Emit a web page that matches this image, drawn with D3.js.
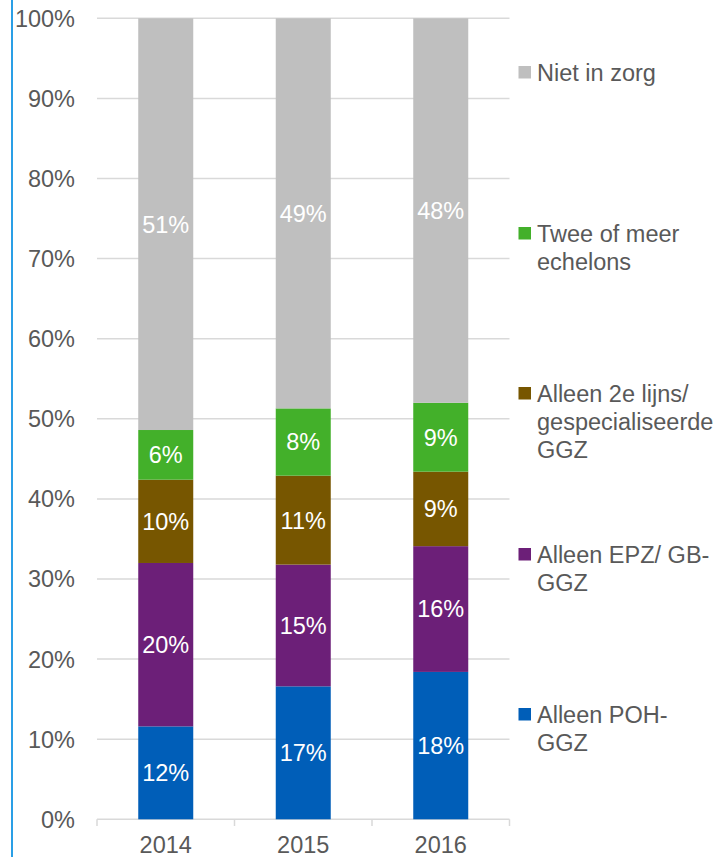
<!DOCTYPE html>
<html>
<head>
<meta charset="utf-8">
<script src="https://cdn.jsdelivr.net/npm/d3@7"></script>
<style>
  html, body { margin: 0; padding: 0; background: #fff; }
  svg { display: block; font-family: "Liberation Sans", Arial, sans-serif; }
</style>
</head>
<body>
<svg id="chart" width="719" height="857"></svg>
<script>
const years = ["2014", "2015", "2016"];
const seriesNames = ["Alleen POH-GGZ", "Alleen EPZ/ GB-GGZ", "Alleen 2e lijns/ gespecialiseerde GGZ", "Twee of meer echelons", "Niet in zorg"];
const pohGgz       = [11.6, 16.6, 18.4];
const epzGbGgz     = [20.4, 15.2, 15.7];
const tweedeLijn   = [10.4, 11.1, 9.3];
const tweeOfMeer   = [6.2, 8.4, 8.6];
const nietInZorg   = [51.4, 48.7, 48.0];
const yTicks = [0, 10, 20, 30, 40, 50, 60, 70, 80, 90, 100];
const colors = ["#005EB8", "#6C1F78", "#775600", "#43B02A", "#BFBFBF"];
const legendLines = [
  ["Alleen POH-", "GGZ"],
  ["Alleen EPZ/ GB-", "GGZ"],
  ["Alleen 2e lijns/", "gespecialiseerde", "GGZ"],
  ["Twee of meer", "echelons"],
  ["Niet in zorg"]
];
const legendY = [708, 548, 387, 227, 66];

const seriesArrays = [pohGgz, epzGbGgz, tweedeLijn, tweeOfMeer, nietInZorg];
const keys = seriesNames;
const table = years.map((y, i) => {
  const row = { year: y };
  keys.forEach((k, j) => row[k] = seriesArrays[j][i]);
  return row;
});

const svg = d3.select("#chart");
const x = d3.scaleBand().domain(years).range([97, 509.5]).paddingInner(0.6).paddingOuter(0.3);
const y = d3.scaleLinear().domain([0, 100]).range([819.3, 18.3]);

// left blue line
svg.append("line").attr("x1", 12).attr("x2", 12).attr("y1", 0).attr("y2", 857)
  .attr("stroke", "#2A9FE6").attr("stroke-width", 2);

// gridlines
svg.append("g").selectAll("line").data(yTicks).join("line")
  .attr("x1", 97).attr("x2", 509.5)
  .attr("y1", d => y(d)).attr("y2", d => y(d))
  .attr("stroke", "#D9D9D9").attr("stroke-width", 1.5);

// y labels
svg.append("g").selectAll("text").data(yTicks).join("text")
  .attr("x", 75).attr("y", d => y(d)).attr("dy", "0.36em")
  .attr("text-anchor", "end").attr("font-size", 23.5).attr("fill", "#595959")
  .text(d => d + "%");

// x axis with ticks at band boundaries
const step = x.step();
const bounds = [97, 97 + step, 97 + 2 * step, 509.5];
svg.append("g").selectAll("line").data(bounds).join("line")
  .attr("x1", d => d).attr("x2", d => d).attr("y1", 819.3).attr("y2", 826)
  .attr("stroke", "#D9D9D9").attr("stroke-width", 1.5);
svg.append("g").selectAll("text").data(years).join("text")
  .attr("x", d => x(d) + x.bandwidth() / 2).attr("y", 853)
  .attr("text-anchor", "middle").attr("font-size", 23.5).attr("fill", "#595959")
  .text(d => d);

const stacked = d3.stack().keys(keys)(table);

const groups = svg.append("g").selectAll("g").data(stacked).join("g")
  .attr("fill", (d, i) => colors[i]);
groups.selectAll("rect").data(d => d).join("rect")
  .attr("x", d => x(d.data.year))
  .attr("width", x.bandwidth())
  .attr("y", d => y(d[1]))
  .attr("height", d => y(d[0]) - y(d[1]));

// data labels
const lab = svg.append("g");
stacked.forEach(s => {
  s.forEach(d => {
    lab.append("text")
      .attr("x", x(d.data.year) + x.bandwidth() / 2)
      .attr("y", (y(d[0]) + y(d[1])) / 2)
      .attr("dy", "0.36em")
      .attr("text-anchor", "middle").attr("font-size", 23.5).attr("fill", "#fff")
      .text(Math.round(d[1] - d[0]) + "%");
  });
});

// legend
const lg = svg.append("g");
legendLines.forEach((lines, i) => {
  lg.append("rect").attr("x", 518.5).attr("y", legendY[i]).attr("width", 12.5).attr("height", 12.5)
    .attr("fill", colors[i]);
  const t = lg.append("text").attr("x", 537).attr("y", legendY[i] + 14.5)
    .attr("font-size", 23.5).attr("fill", "#595959");
  lines.forEach((ln, k) => {
    t.append("tspan").attr("x", 537).attr("dy", k === 0 ? 0 : 28).text(ln);
  });
});
</script>
</body>
</html>
